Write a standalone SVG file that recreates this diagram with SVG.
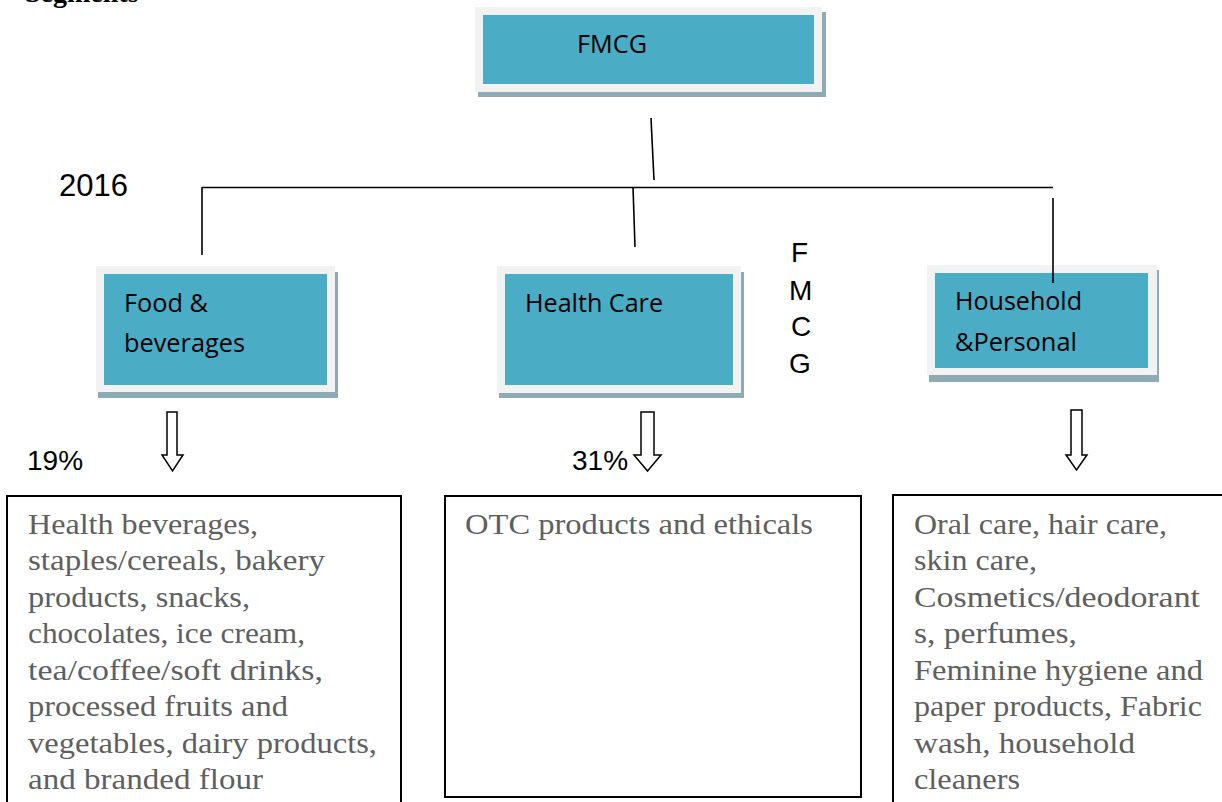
<svg xmlns="http://www.w3.org/2000/svg" width="1222" height="802" viewBox="0 0 1222 802">
<style>
.frame{fill:#f2f2f2}
.shadow{fill:#8eaab5}
.teal{fill:#4bacc6}
.lbl{font-family:"Open Sans","Lato",sans-serif;font-size:26px;fill:#000}
.ar{font-family:"Liberation Sans",Arial,sans-serif;font-size:28px;fill:#000}
.desc{font-family:"Liberation Serif","Times New Roman",serif;font-size:30px;fill:#5f5f5f}
.box{fill:#fff;stroke:#000;stroke-width:2}
.line{stroke:#000;stroke-width:1.6;fill:none}
.arrow{fill:#fff;stroke:#000;stroke-width:1.5;stroke-linejoin:miter}
</style>
<rect width="1222" height="802" fill="#fff"/>
<text x="25" y="2" font-family="'Liberation Serif',serif" font-weight="bold" font-size="28" fill="#000">Segments</text>

<g id="node-fmcg">
<rect class="shadow" x="478" y="12" width="348" height="85"/>
<rect class="frame" x="475" y="7" width="347" height="85"/>
<rect class="teal" x="483" y="15" width="331" height="69"/>
<text class="lbl" x="577" y="53" textLength="70" lengthAdjust="spacingAndGlyphs">FMCG</text>
</g>

<g id="node-food">
<rect class="shadow" x="98" y="272" width="240" height="126"/>
<rect class="frame" x="96" y="266" width="239" height="126"/>
<rect class="teal" x="104" y="274" width="223" height="111"/>
<text class="lbl" x="124" y="312" textLength="84" lengthAdjust="spacingAndGlyphs">Food &amp;</text>
<text class="lbl" x="124" y="352" textLength="121" lengthAdjust="spacingAndGlyphs">beverages</text>
</g>

<g id="node-health">
<rect class="shadow" x="499" y="272" width="245" height="126"/>
<rect class="frame" x="497" y="266" width="244" height="127"/>
<rect class="teal" x="505" y="274" width="228" height="111"/>
<text class="lbl" x="525" y="312" textLength="138" lengthAdjust="spacingAndGlyphs">Health Care</text>
</g>

<g id="node-household">
<rect class="shadow" x="929" y="270" width="230" height="112"/>
<rect class="frame" x="927" y="265" width="230" height="110"/>
<rect class="teal" x="935" y="273" width="213" height="95"/>
<text class="lbl" x="955" y="310" textLength="127" lengthAdjust="spacingAndGlyphs">Household</text>
<text class="lbl" x="955" y="351" textLength="122" lengthAdjust="spacingAndGlyphs">&amp;Personal</text>
</g>

<g id="connectors">
<line class="line" x1="651" y1="118" x2="654" y2="180"/>
<line class="line" x1="202" y1="187.5" x2="1053" y2="187.5"/>
<line class="line" x1="202" y1="187" x2="202" y2="255"/>
<line class="line" x1="633" y1="187" x2="635" y2="247"/>
<line class="line" x1="1053" y1="198" x2="1053" y2="283"/>
</g>

<g id="labels">
<text class="ar" x="59" y="196" style="font-size:31px">2016</text>
<text class="ar" x="27" y="470">19%</text>
<text class="ar" x="572" y="470">31%</text>
<text class="ar" x="791" y="262">F</text>
<text class="ar" x="789" y="300">M</text>
<text class="ar" x="791" y="336">C</text>
<text class="ar" x="789" y="373">G</text>
</g>

<g id="arrows">
<polygon class="arrow" points="167,412 177,412 177,455 183,455 172.5,471 162,455 167,455"/>
<polygon class="arrow" points="641,412 654,412 654,455 661,455 647.5,471 634,455 641,455"/>
<polygon class="arrow" points="1071,410 1082,410 1082,455 1087,455 1076.5,470 1066,455 1071,455"/>
</g>

<g id="node-food-desc">
<rect class="box" x="7" y="496" width="394" height="320"/>
<text class="desc" x="28" y="534" textLength="230" lengthAdjust="spacingAndGlyphs">Health beverages,</text>
<text class="desc" x="28" y="570" textLength="297" lengthAdjust="spacingAndGlyphs">staples/cereals, bakery</text>
<text class="desc" x="28" y="607" textLength="222" lengthAdjust="spacingAndGlyphs">products, snacks,</text>
<text class="desc" x="28" y="643" textLength="277" lengthAdjust="spacingAndGlyphs">chocolates, ice cream,</text>
<text class="desc" x="28" y="680" textLength="295" lengthAdjust="spacingAndGlyphs">tea/coffee/soft drinks,</text>
<text class="desc" x="28" y="716" textLength="260" lengthAdjust="spacingAndGlyphs">processed fruits and</text>
<text class="desc" x="28" y="753" textLength="349" lengthAdjust="spacingAndGlyphs">vegetables, dairy products,</text>
<text class="desc" x="28" y="789" textLength="235" lengthAdjust="spacingAndGlyphs">and branded flour</text>
</g>

<g id="node-health-desc">
<rect class="box" x="445" y="496" width="416" height="301"/>
<text class="desc" x="465" y="534" textLength="348" lengthAdjust="spacingAndGlyphs">OTC products and ethicals</text>
</g>

<g id="node-household-desc">
<rect class="box" x="893" y="495" width="340" height="320"/>
<text class="desc" x="914" y="534" textLength="253" lengthAdjust="spacingAndGlyphs">Oral care, hair care,</text>
<text class="desc" x="914" y="570" textLength="123" lengthAdjust="spacingAndGlyphs">skin care,</text>
<text class="desc" x="914" y="607" textLength="286" lengthAdjust="spacingAndGlyphs">Cosmetics/deodorant</text>
<text class="desc" x="914" y="643" textLength="163" lengthAdjust="spacingAndGlyphs">s, perfumes,</text>
<text class="desc" x="914" y="680" textLength="289" lengthAdjust="spacingAndGlyphs">Feminine hygiene and</text>
<text class="desc" x="914" y="716" textLength="288" lengthAdjust="spacingAndGlyphs">paper products, Fabric</text>
<text class="desc" x="914" y="753" textLength="221" lengthAdjust="spacingAndGlyphs">wash, household</text>
<text class="desc" x="914" y="789" textLength="106" lengthAdjust="spacingAndGlyphs">cleaners</text>
</g>
</svg>
